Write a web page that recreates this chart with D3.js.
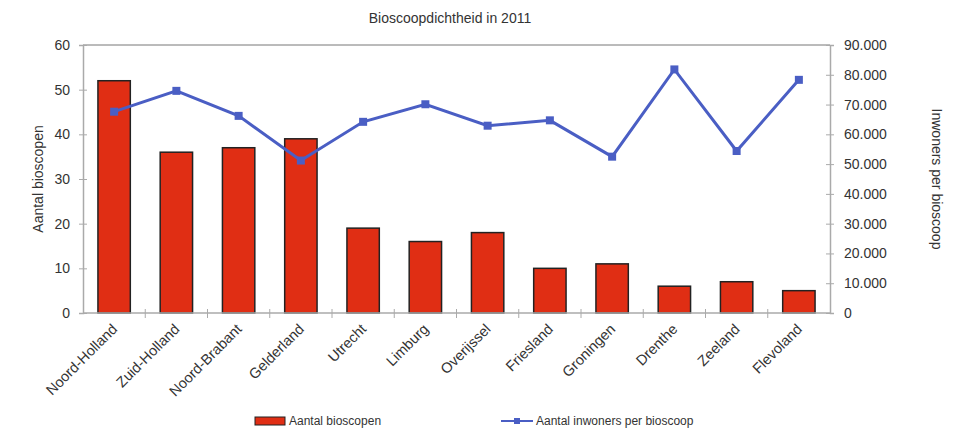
<!DOCTYPE html>
<html>
<head>
<meta charset="utf-8">
<script src="https://d3js.org/d3.v7.min.js"></script>
<style>
  body { margin: 0; background: #fff; }
  text { font-family: "Liberation Sans", Arial, sans-serif; fill: #333; }
</style>
</head>
<body>
<div id="vis-container"></div>
<script>
// Bioscoopdichtheid in 2011: bars = aantal bioscopen, line = inwoners per bioscoop
const provinces = ["Noord-Holland", "Zuid-Holland", "Noord-Brabant", "Gelderland", "Utrecht", "Limburg",
  "Overijssel", "Friesland", "Groningen", "Drenthe", "Zeeland", "Flevoland"];
const cinemas = [52, 36, 37, 39, 19, 16, 18, 10, 11, 6, 7, 5];
const residentsPerCinema = [67600, 74600, 66200, 51200, 64200, 70100, 62900, 64700, 52500, 81800, 54400, 78300];
const leftTicks = [0, 10, 20, 30, 40, 50, 60];
const rightTicks = [0, 10000, 20000, 30000, 40000, 50000, 60000, 70000, 80000, 90000];

const width = 976, height = 432;
const margin = { top: 45, right: 146, bottom: 119, left: 83 };
const barColor = "#e02e14";
const lineColor = "#4a5ec4";
const axisColor = "#aaa";

const svg = d3.select("#vis-container").append("svg")
  .attr("width", width)
  .attr("height", height);

const x = d3.scaleBand()
  .domain(provinces)
  .range([margin.left, width - margin.right])
  .paddingInner(0.48)
  .paddingOuter(0.24);

const yLeft = d3.scaleLinear().domain([0, 60]).range([height - margin.bottom, margin.top]);
const yRight = d3.scaleLinear().domain([0, 90000]).range([height - margin.bottom, margin.top]);

const fmt = d3.formatLocale({ decimal: ",", thousands: ".", grouping: [3], currency: ["€", ""] }).format(",");

// Top border
svg.append("line")
  .attr("x1", margin.left).attr("x2", width - margin.right)
  .attr("y1", margin.top).attr("y2", margin.top)
  .attr("stroke", "#777");

// Bars
svg.selectAll("rect.bar")
  .data(provinces)
  .enter()
  .append("rect")
  .attr("class", "bar")
  .attr("x", d => x(d))
  .attr("y", (d, i) => yLeft(cinemas[i]))
  .attr("width", x.bandwidth())
  .attr("height", (d, i) => yLeft(0) - yLeft(cinemas[i]))
  .attr("fill", barColor)
  .attr("stroke", "#222")
  .attr("stroke-width", 1.5);

// Left axis
const gl = svg.append("g")
  .attr("transform", `translate(${margin.left},0)`)
  .call(d3.axisLeft(yLeft).tickValues(leftTicks).tickSize(4).tickPadding(9));
gl.select(".domain").attr("stroke", axisColor).attr("stroke-width", 1.5);
gl.selectAll(".tick line").attr("stroke", axisColor).attr("x2", 4).attr("x1", -4);
gl.selectAll("text").style("font-size", "14px").attr("fill", "#333");

// Right axis
const gr = svg.append("g")
  .attr("transform", `translate(${width - margin.right},0)`)
  .call(d3.axisRight(yRight).tickValues(rightTicks).tickSize(4).tickPadding(10).tickFormat(fmt));
gr.select(".domain").attr("stroke", axisColor).attr("stroke-width", 1.5);
gr.selectAll(".tick line").attr("stroke", axisColor).attr("x1", -4).attr("x2", 4);
gr.selectAll("text").style("font-size", "14px").attr("fill", "#333");

// Bottom axis with ticks at category boundaries
const base = yLeft(0);
svg.append("line")
  .attr("x1", margin.left).attr("x2", width - margin.right)
  .attr("y1", base).attr("y2", base)
  .attr("stroke", axisColor).attr("stroke-width", 1.5);
const step = x.step();
svg.selectAll("line.xtick")
  .data(provinces.slice(1))
  .enter()
  .append("line")
  .attr("class", "xtick")
  .attr("x1", d => x(d) - step * x.paddingInner() / 2)
  .attr("x2", d => x(d) - step * x.paddingInner() / 2)
  .attr("y1", base - 4).attr("y2", base + 5)
  .attr("stroke", axisColor);

svg.selectAll("text.xlabel")
  .data(provinces)
  .enter()
  .append("text")
  .attr("class", "xlabel")
  .attr("transform", d => `translate(${x(d) + x.bandwidth() / 2 + 4},${base + 17}) rotate(-45)`)
  .attr("text-anchor", "end")
  .style("font-size", "14.5px")
  .text(d => d);

// Line
const line = d3.line()
  .x((d, i) => x(provinces[i]) + x.bandwidth() / 2)
  .y(d => yRight(d));
svg.append("path")
  .datum(residentsPerCinema)
  .attr("d", line)
  .attr("fill", "none")
  .attr("stroke", lineColor)
  .attr("stroke-width", 3);
svg.selectAll("rect.marker")
  .data(residentsPerCinema)
  .enter()
  .append("rect")
  .attr("class", "marker")
  .attr("x", (d, i) => x(provinces[i]) + x.bandwidth() / 2 - 4)
  .attr("y", d => yRight(d) - 4)
  .attr("width", 8).attr("height", 8)
  .attr("fill", lineColor);

// Titles
svg.append("text")
  .attr("x", 450).attr("y", 23)
  .attr("text-anchor", "middle")
  .style("font-size", "14px")
  .text("Bioscoopdichtheid in 2011");

svg.append("text")
  .attr("transform", `translate(43,${(margin.top + base) / 2}) rotate(-90)`)
  .attr("text-anchor", "middle")
  .style("font-size", "14px")
  .text("Aantal bioscopen");

svg.append("text")
  .attr("transform", `translate(932,${(margin.top + base) / 2}) rotate(90)`)
  .attr("text-anchor", "middle")
  .style("font-size", "14px")
  .text("Inwoners per bioscoop");

// Legend
const ly = 421;
svg.append("rect")
  .attr("x", 255).attr("y", ly - 4).attr("width", 30).attr("height", 8)
  .attr("fill", barColor).attr("stroke", "#222");
svg.append("text")
  .attr("x", 289).attr("y", ly + 4)
  .style("font-size", "12px")
  .text("Aantal bioscopen");
svg.append("line")
  .attr("x1", 501).attr("x2", 533).attr("y1", ly).attr("y2", ly)
  .attr("stroke", lineColor).attr("stroke-width", 2);
svg.append("rect")
  .attr("x", 514).attr("y", ly - 3).attr("width", 6).attr("height", 6)
  .attr("fill", lineColor);
svg.append("text")
  .attr("x", 536).attr("y", ly + 4)
  .style("font-size", "12px")
  .text("Aantal inwoners per bioscoop");
</script>
</body>
</html>
